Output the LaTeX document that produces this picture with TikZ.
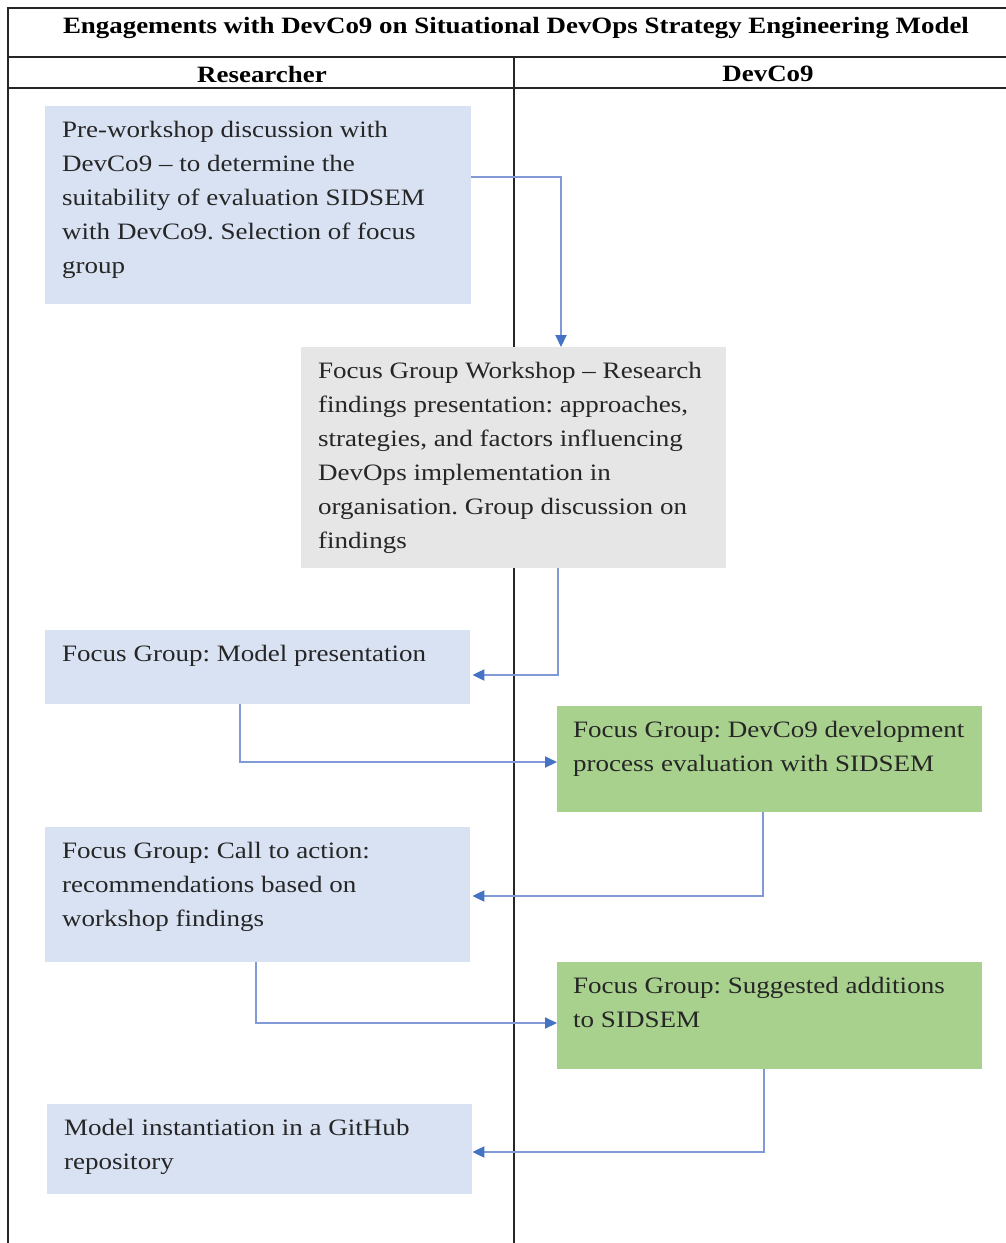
\documentclass[tikz,border=0pt]{standalone}
\usepackage{fontspec}
\setmainfont{Liberation Serif}[FakeStretch=1.15]
\frenchspacing
\usetikzlibrary{calc,arrows.meta}

\definecolor{researchfill}{HTML}{D9E2F3}
\definecolor{workshopfill}{HTML}{E7E6E6}
\definecolor{companyfill}{HTML}{A9D18E}
\definecolor{flowline}{HTML}{8299D8}
\definecolor{flowhead}{HTML}{4472C4}

\tikzset{
  stagebox/.style={rectangle, draw=none, inner sep=0pt, anchor=north west},
  researchbox/.style={stagebox, fill=researchfill},
  workshopbox/.style={stagebox, fill=workshopfill},
  companybox/.style={stagebox, fill=companyfill},
  stagetext/.style={anchor=north west, inner sep=0pt, align=left,
    font=\fontsize{23.5}{34}\selectfont, text=black!85},
  headtext/.style={inner sep=0pt, font=\bfseries\fontsize{23.4}{27}\selectfont},
  frameline/.style={line width=1.4pt, black!85},
  flow/.style={line width=2pt, flowline,
    -{Triangle[length=12pt,width=11pt,color=flowhead]}},
}

\begin{document}
\begin{tikzpicture}[x=1pt,y=-1pt]
\useasboundingbox (0,0) rectangle (1006,1243);
\fill[white] (0,0) rectangle (1006,1243);

% table frame
\coordinate (ftl) at (8,8);
\coordinate (ftr) at (1006,8);
\coordinate (fbl) at (8,1243);
\coordinate (r1l) at (8,57);
\coordinate (r1r) at (1006,57);
\coordinate (r2l) at (8,88);
\coordinate (r2r) at (1006,88);
\coordinate (divt) at (514,57);
\coordinate (divb) at (514,1243);
\draw[frameline] (fbl) -- (ftl) -- (ftr);
\draw[frameline] (r1l) -- (r1r);
\draw[frameline] (r2l) -- (r2r);
\draw[frameline] (divt) -- (divb);

% headings
\node[headtext] (title) at (516,28) {Engagements with DevCo9 on Situational DevOps Strategy Engineering Model};
\node[headtext] (hres) at (262,74) {Researcher};
\node[headtext] (hdev) at (768,74) {DevCo9};

% stages
\node[researchbox, minimum width=426pt, minimum height=198pt] (s1) at (45,106) {};
\node[stagetext] (s1t) at ($(s1.north west)+(17,15)$) {Pre-workshop discussion with\\DevCo9 -- to determine the\\suitability of evaluation SIDSEM\\with DevCo9. Selection of focus\\group};

\node[workshopbox, minimum width=425pt, minimum height=221pt] (s2) at (301,347) {};
\node[stagetext] (s2t) at ($(s2.north west)+(17,15)$) {Focus Group Workshop -- Research\\findings presentation: approaches,\\strategies, and factors influencing\\DevOps implementation in\\organisation. Group discussion on\\findings};

\node[researchbox, minimum width=425pt, minimum height=74pt] (s3) at (45,630) {};
\node[stagetext] (s3t) at ($(s3.north west)+(17,15)$) {Focus Group: Model presentation};

\node[companybox, minimum width=425pt, minimum height=106pt] (s4) at (557,706) {};
\node[stagetext] (s4t) at ($(s4.north west)+(16,15)$) {Focus Group: DevCo9 development\\process evaluation with SIDSEM};

\node[researchbox, minimum width=425pt, minimum height=135pt] (s5) at (45,827) {};
\node[stagetext] (s5t) at ($(s5.north west)+(17,15)$) {Focus Group: Call to action:\\recommendations based on\\workshop findings};

\node[companybox, minimum width=425pt, minimum height=107pt] (s6) at (557,962) {};
\node[stagetext] (s6t) at ($(s6.north west)+(16,15)$) {Focus Group: Suggested additions\\to SIDSEM};

\node[researchbox, minimum width=425pt, minimum height=90pt] (s7) at (47,1104) {};
\node[stagetext] (s7t) at ($(s7.north west)+(17,15)$) {Model instantiation in a GitHub\\repository};

% flow between stages
\draw[flow] ($(s1.north east)+(0,71)$) -| ($(s2.north west)+(260,0)$);
\draw[flow] ($(s2.south west)+(257,0)$) |- ($(s3.north east)+(2,45)$);
\draw[flow] ($(s3.south west)+(195,0)$) |- ($(s4.north west)+(0,56)$);
\draw[flow] ($(s4.south west)+(206,0)$) |- ($(s5.north east)+(2,69)$);
\draw[flow] ($(s5.south west)+(211,0)$) |- ($(s6.north west)+(0,61)$);
\draw[flow] ($(s6.south west)+(207,0)$) |- ($(s7.north east)+(0,48)$);
\end{tikzpicture}
\end{document}
